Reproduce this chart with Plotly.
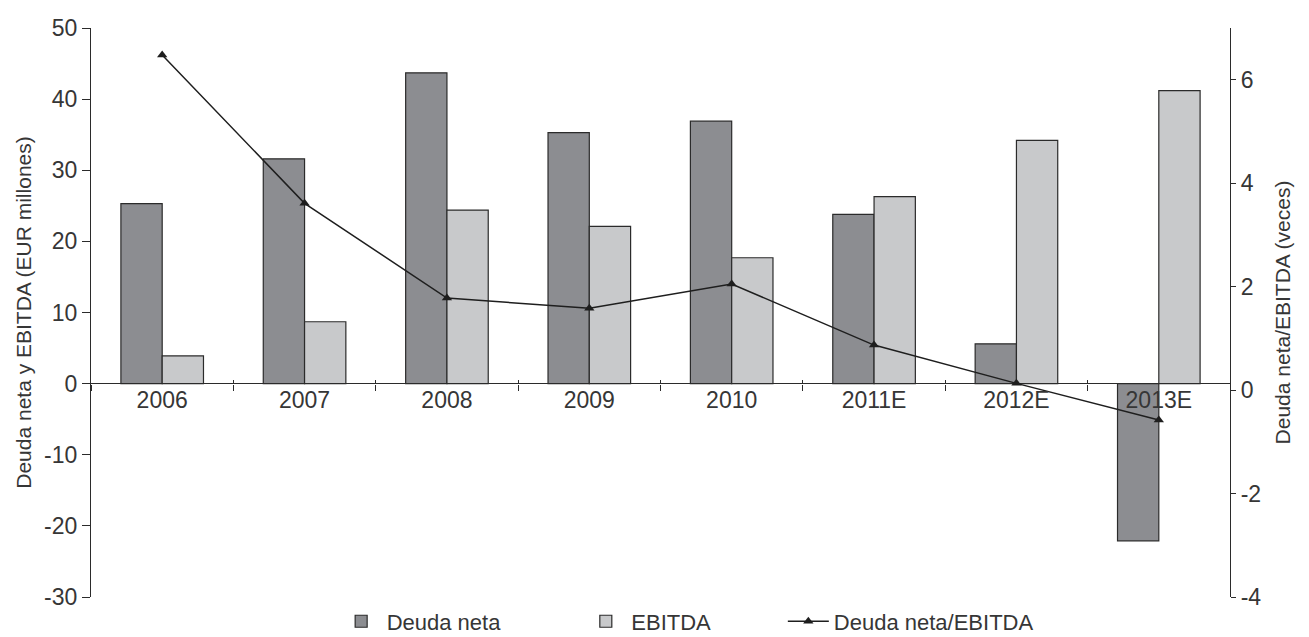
import plotly.graph_objects as go

# Data (EUR millones) and ratio (veces)
years = ["2006", "2007", "2008", "2009", "2010", "2011E", "2012E", "2013E"]
deuda_neta = [25.3, 31.6, 43.7, 35.3, 36.9, 23.8, 5.6, -22.1]
ebitda = [3.9, 8.7, 24.4, 22.1, 17.7, 26.3, 34.2, 41.2]
ratio = [6.48, 3.61, 1.78, 1.58, 2.05, 0.87, 0.13, -0.58]

left_range = [-30, 50]
left_ticks = [-30, -20, -10, 0, 10, 20, 30, 40, 50]
right_range = [-4, 7]
right_ticks = [-4, -2, 0, 2, 4, 6]

FONT = "Liberation Sans, Arial, sans-serif"
TXT = "#363636"
AX = "#2b2b2b"

# position of the category axis so that it sits on the zero line
zero_pos = (0 - left_range[0]) / (left_range[1] - left_range[0])


def legend_box(x):
    return dict(
        orientation="h", x=x, xanchor="left", y=-0.043, yanchor="middle",
        font=dict(size=22, color=TXT), itemwidth=41,
        bgcolor="rgba(0,0,0,0)",
    )


fig = go.Figure()
fig.add_trace(go.Bar(
    x=years, y=deuda_neta, name="Deuda neta", legend="legend",
    marker=dict(color="#8c8d91", line=dict(color=AX, width=1.2)),
))
fig.add_trace(go.Bar(
    x=years, y=ebitda, name="EBITDA", legend="legend2",
    marker=dict(color="#c8c9cb", line=dict(color=AX, width=1.2)),
))
fig.add_trace(go.Scatter(
    x=years, y=ratio, name="Deuda neta/EBITDA", legend="legend3",
    xaxis="x2", yaxis="y2", mode="lines+markers",
    line=dict(color="#1e1e1e", width=1.5),
    marker=dict(symbol="triangle-up", size=9, color="#1e1e1e"),
))

fig.update_layout(
    width=1309, height=637,
    margin=dict(l=91, r=79, t=28, b=40, autoexpand=False),
    paper_bgcolor="white", plot_bgcolor="white",
    font=dict(family=FONT, size=23, color=TXT),
    barmode="group", bargap=0.42, bargroupgap=0,
    showlegend=True,
    legend=legend_box(0.2148),
    legend2=legend_box(0.4296),
    legend3=legend_box(0.6074),
    xaxis=dict(
        type="category", categoryarray=years, range=[-0.5, 7.5],
        anchor="free", position=zero_pos, automargin=False,
        tickson="boundaries", ticks="outside", ticklen=6, tickcolor=AX,
        showline=False, showgrid=False, zeroline=False,
        tickfont=dict(size=23, color=TXT),
    ),
    xaxis2=dict(
        type="category", categoryarray=years, range=[-0.5, 7.5],
        overlaying="x", anchor="free", position=zero_pos, automargin=False,
        tickson="boundaries", ticks="inside", ticklen=4, tickcolor=AX,
        showticklabels=False, showline=False, showgrid=False, zeroline=False,
    ),
    yaxis=dict(
        range=left_range, tickvals=left_ticks,
        ticktext=[str(v) for v in left_ticks], automargin=False,
        ticks="outside", ticklen=8, tickcolor=AX,
        showline=True, linecolor=AX, linewidth=1.2,
        showgrid=False, zeroline=True, zerolinecolor=AX, zerolinewidth=1.2,
        title=dict(text="Deuda neta y EBITDA (EUR millones)",
                   font=dict(size=21, color=TXT), standoff=6),
        tickfont=dict(size=23, color=TXT),
    ),
    yaxis2=dict(
        range=right_range, tickvals=right_ticks,
        ticktext=[str(v) for v in right_ticks], automargin=False,
        overlaying="y", side="right", anchor="x",
        ticks="outside", ticklen=5, tickcolor=AX,
        showline=True, linecolor=AX, linewidth=1.2,
        showgrid=False, zeroline=False,
        title=dict(text="Deuda neta/EBITDA (veces)",
                   font=dict(size=21, color=TXT), standoff=14),
        tickfont=dict(size=23, color=TXT),
    ),
    # inner half of the crossing ticks on the right axis
    yaxis3=dict(
        range=right_range, tickvals=right_ticks, automargin=False,
        overlaying="y", side="right", anchor="x",
        ticks="inside", ticklen=5, tickcolor=AX,
        showticklabels=False, showline=False, showgrid=False, zeroline=False,
    ),
)

fig.write_html("out.html")
